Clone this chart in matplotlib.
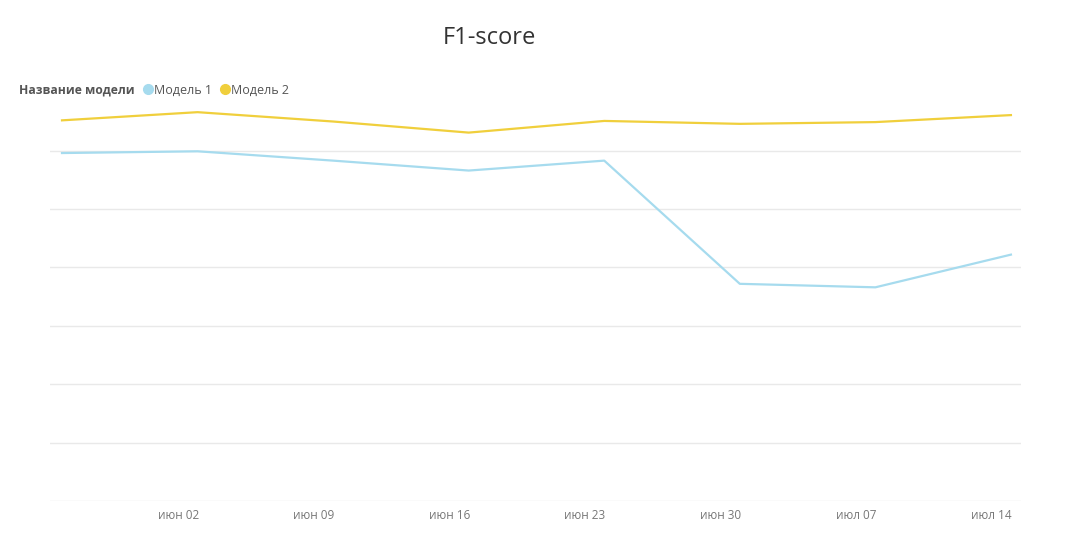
import numpy as np
import matplotlib; matplotlib.use('Agg')
import matplotlib.pyplot as plt
import matplotlib.dates as mdates
from matplotlib.lines import Line2D
import datetime as dt

plt.rcParams['font.family'] = ['Open Sans', 'DejaVu Sans']

# data
dates = [dt.date(2024, 5, 27), dt.date(2024, 6, 3), dt.date(2024, 6, 10), dt.date(2024, 6, 17),
         dt.date(2024, 6, 24), dt.date(2024, 7, 1), dt.date(2024, 7, 8), dt.date(2024, 7, 15)]
model1 = [0.596, 0.599, 0.583, 0.566, 0.583, 0.372, 0.366, 0.422]
model2 = [0.652, 0.666, 0.650, 0.631, 0.651, 0.646, 0.649, 0.661]
series_names = ['Модель 1', 'Модель 2']
colors = ['#a6dbee', '#f0cf3c']
tick_dates = [dt.date(2024, 6, 2), dt.date(2024, 6, 9), dt.date(2024, 6, 16), dt.date(2024, 6, 23),
              dt.date(2024, 6, 30), dt.date(2024, 7, 7), dt.date(2024, 7, 14)]
tick_labels = ['июн 02', 'июн 09', 'июн 16', 'июн 23', 'июн 30', 'июл 07', 'июл 14']

W, H = 1068, 546
fig = plt.figure(figsize=(W/100, H/100), dpi=100)
ax = fig.add_axes([50/W, 45/H, (1021-50)/W, (501-104)/H])

x = mdates.date2num(dates)
ax.plot(x, model1, color=colors[0], lw=1.6, solid_joinstyle='round', zorder=3)
ax.plot(x, model2, color=colors[1], lw=1.6, solid_joinstyle='round', zorder=3)

ax.set_xlim(x[0] - 0.62, x[-1] + 0.52)
ax.set_ylim(0, 0.68)
ax.set_yticks(np.arange(0, 0.61, 0.1))
ax.yaxis.grid(True, color='#e9e9e9', lw=1)
ax.set_yticklabels([])
ax.tick_params(axis='y', length=0)
ax.set_xticks(mdates.date2num(tick_dates))
ax.set_xticklabels(tick_labels, color='#777777', fontsize=8.5)
ax.tick_params(axis='x', length=0, pad=6)
for s in ax.spines.values():
    s.set_visible(False)

fig.text(489/W, 1 - 38/H, 'F1-score', ha='center', va='center', fontsize=17, color='#333333')
fig.text(19/W, 1 - 90/H, 'Название модели', ha='left', va='center', fontsize=8.7,
         fontweight='bold', color='#555555')
handles = [Line2D([], [], ls='', marker='o', ms=7, color=c) for c in colors]
fig.legend(handles, series_names, loc='center left', bbox_to_anchor=(142/W, 1 - 90/H),
           ncol=2, frameon=False, fontsize=9, handletextpad=0.0, columnspacing=0.5,
           handlelength=1.0, borderaxespad=0, borderpad=0, labelcolor='#555555')

plt.savefig('out.png', dpi=100)
plt.close()
